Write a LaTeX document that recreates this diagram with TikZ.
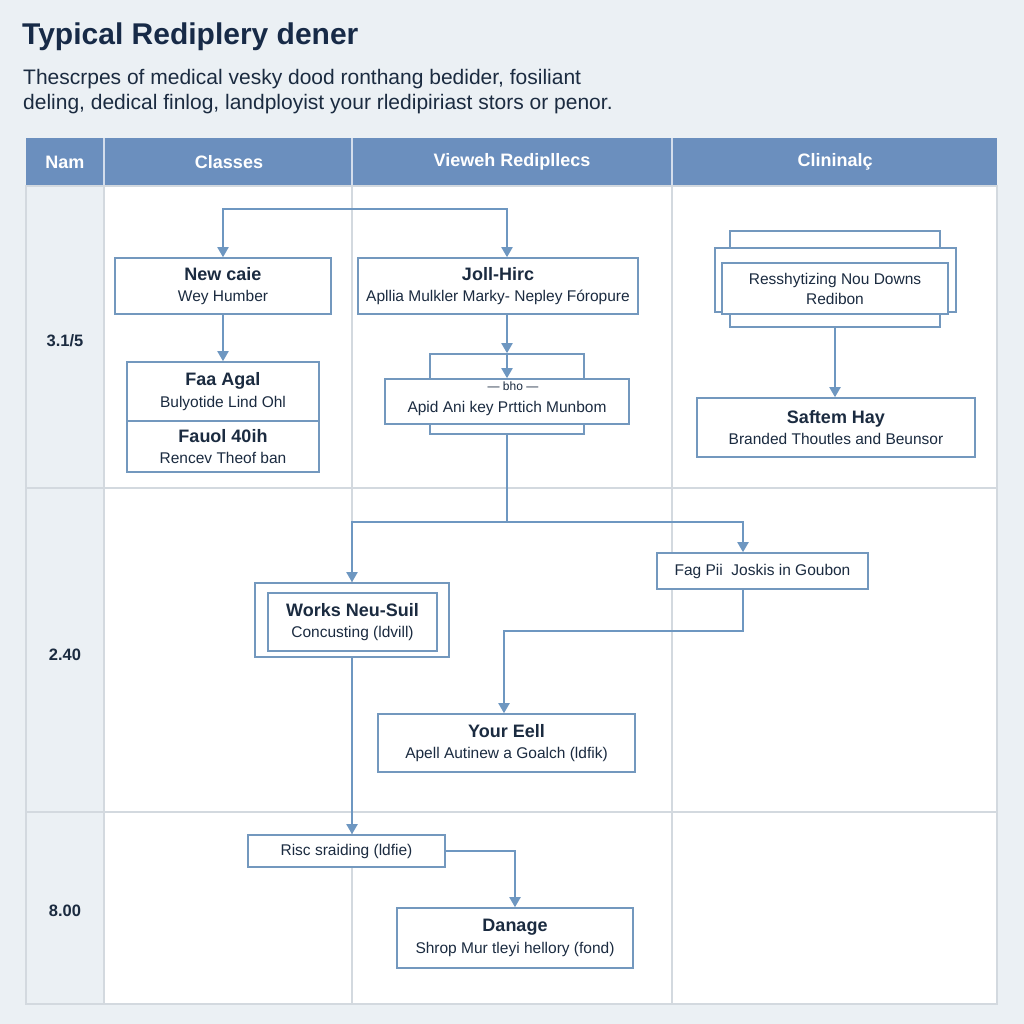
\documentclass[tikz,border=0pt]{standalone}
\usepackage{fontspec}
\setmainfont{Liberation Sans}
\usetikzlibrary{arrows.meta}
\definecolor{pagebg}{HTML}{EBF0F4}
\definecolor{hdr}{HTML}{6B8FBE}
\definecolor{grid}{HTML}{D3D9DF}
\definecolor{bx}{HTML}{7398BE}
\definecolor{cn}{HTML}{6E97C1}
\definecolor{txt}{HTML}{1B2B40}
\definecolor{ttl}{HTML}{172A47}
\newcommand\bt[1]{{\fontsize{18}{21}\selectfont\bfseries #1}}
\newcommand\st[1]{{\fontsize{15.5}{21}\selectfont #1}}
\tikzset{
  box/.style={draw=bx, line width=1.6pt, fill=white, inner sep=0pt, align=center, text=txt, font=\fontsize{15.5}{21.5}\selectfont},
  conn/.style={draw=cn, line width=1.9pt},
  arr/.style={conn, -{Triangle[width=11pt,length=10pt]}},
  hdrtext/.style={text=white, font=\fontsize{18}{20}\selectfont\bfseries},
  rowlab/.style={text=txt, font=\fontsize{16.5}{19}\selectfont\bfseries},
}
\begin{document}
\begin{tikzpicture}[x=1pt,y=-1pt]
\fill[pagebg] (0,0) rectangle (1024,1024);
\useasboundingbox (0,0) rectangle (1024,1024);

% title and description
\node[anchor=base west, inner sep=0, text=ttl, font=\fontsize{30}{34}\selectfont\bfseries] (title) at (22,45) {Typical Rediplery dener};
\node[anchor=base west, inner sep=0, text=txt, font=\fontsize{21}{24}\selectfont] (desc1) at (23,85) {Thescrpes of medical vesky dood ronthang bedider, fosiliant};
\node[anchor=base west, inner sep=0, text=txt, font=\fontsize{21}{24}\selectfont] (desc2) at (23,110) {deling, dedical finlog, landployist your rledipiriast stors or penor.};

% table
\fill[white] (104,186) rectangle (997,1004);
\fill[hdr] (26,138) rectangle (997,186);
\draw[white!70!hdr, line width=1.2pt] (104,138) -- (104,186) (352,138) -- (352,186) (672,138) -- (672,186);
\draw[grid, line width=1.6pt] (26,186) rectangle (997,1004);
\draw[grid, line width=1.6pt] (26,488) -- (997,488) (26,812) -- (997,812);
\draw[grid, line width=1.6pt] (104,186) -- (104,1004) (352,186) -- (352,1004) (672,186) -- (672,1004);

\node[hdrtext] (h1) at (65,162) {Nam};
\node[hdrtext] (h2) at (229,162) {Classes};
\node[hdrtext] (h3) at (512,162) {Vieweh Redipllecs};
\node[hdrtext] (h4) at (835,162) {Clininalç};

\node[rowlab] (r1) at (65,341) {3.1/5};
\node[rowlab] (r2) at (65,655) {2.40};
\node[rowlab] (r3) at (65,911) {8.00};

% boxes
\node[box, minimum width=216pt, minimum height=56pt] (n1) at (223,286) {\bt{New caie}\\\st{Wey Humber}};
\node[box, minimum width=280pt, minimum height=56pt] (n2) at (498,286) {\bt{Joll-Hirc}\\\st{Apllia Mulkler Marky- Nepley Fóropure}};
\node[box, minimum width=192pt, minimum height=59pt] (n3a) at (223,391.5) {\bt{Faa Agal}\\\st{Bulyotide Lind Ohl}};
\node[box, minimum width=192pt, minimum height=51pt] (n3b) at (223,446.5) {\bt{Fauol 40ih}\\\st{Rencev Theof ban}};

\node[box, minimum width=154pt, minimum height=80pt] (back) at (507,394) {};
\node[box, minimum width=244pt, minimum height=45pt] (front) at (507,401.5) {};
\node[text=txt, inner sep=0pt, font=\fontsize{15.5}{18}\selectfont] (fronttxt) at (507,408) {Apid Ani key Prttich Munbom};
\node[fill=white, text=txt, inner sep=2pt, font=\fontsize{12}{14}\selectfont] (bho) at (513,386) {— bho —};

\node[box, minimum width=210pt, minimum height=96pt] (rsA) at (835,279) {};
\node[box, minimum width=241pt, minimum height=64pt] (rsB) at (835.5,280) {};
\node[box, minimum width=226pt, minimum height=51pt, font=\fontsize{15.5}{20}\selectfont] (rsC) at (835,288.5) {Resshytizing Nou Downs\\Redibon};
\node[box, minimum width=278pt, minimum height=59pt] (saf) at (836,427.5) {\bt{Saftem Hay}\\\st{Branded Thoutles and Beunsor}};

\node[box, minimum width=211pt, minimum height=36pt] (fag) at (762.5,571) {Fag Pii\ \ Joskis in Goubon};
\node[box, minimum width=194pt, minimum height=74pt] (works) at (352,620) {};
\node[box, minimum width=169pt, minimum height=58pt] (worksin) at (352.5,622) {\bt{Works Neu-Suil}\\\st{Concusting (ldvill)}};
\node[box, minimum width=257pt, minimum height=58pt] (your) at (506.5,743) {\bt{Your Eell}\\\st{Apell Autinew a Goalch (ldfik)}};
\node[box, minimum width=197pt, minimum height=32pt] (risc) at (346.5,851) {Risc sraiding (ldfie)};
\node[box, minimum width=236pt, minimum height=60pt] (dan) at (515,938) {\bt{Danage}\\\st{Shrop Mur tleyi hellory (fond)}};

% connectors
\coordinate (tl) at (223,209);
\coordinate (tr) at (507,209);
\coordinate (tm) at (365,209);
\draw[arr] (tm) -- (tl) -- (n1.north);
\draw[arr] (tm) -- (tr) -- (tr |- n2.north);
\draw[arr] (n1.south) -- (n3a.north);
\draw[arr] (back.north |- n2.south) -- (back.north);
\draw[arr] (back.north) -- (back.north |- front.north);

\coordinate (sp) at (507,522);
\coordinate (spR) at (743,522);
\draw[conn] (back.south) -- (sp);
\draw[arr] (sp) -| (works.north);
\draw[arr] (sp) -- (spR) -- (spR |- fag.north);
\coordinate (fj) at (743,631);
\coordinate (yj) at (504,631);
\draw[arr] (fj |- fag.south) -- (fj) -- (yj) -- (yj |- your.north);
\draw[arr] (works.south) -- (works.south |- risc.north);
\draw[arr] (risc.east) -| (dan.north);
\draw[arr] (rsA.south) -- (rsA.south |- saf.north);
\end{tikzpicture}
\end{document}
